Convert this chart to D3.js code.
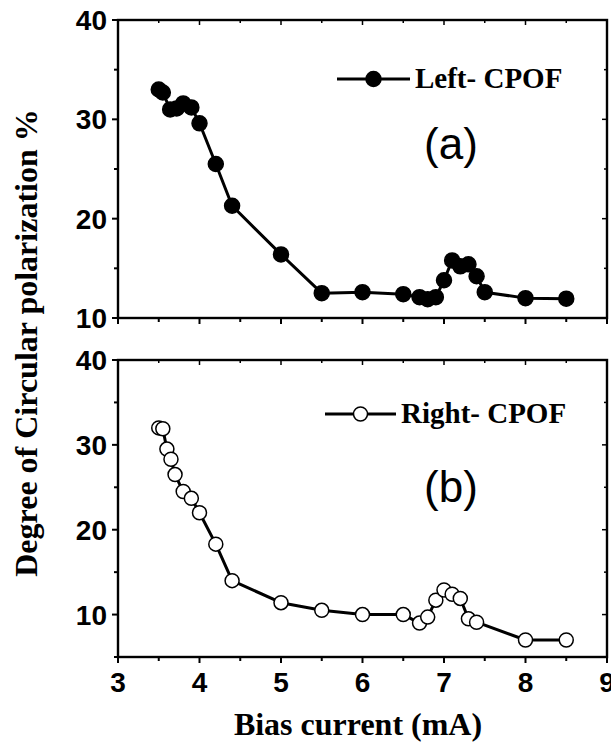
<!DOCTYPE html>
<html>
<head>
<meta charset="utf-8">
<script src="https://cdn.jsdelivr.net/npm/d3@7"></script>
<style>
  body { margin: 0; background: #fff; }
  svg { display: block; }
</style>
</head>
<body>
<div id="chart"></div>
<script>
// Bias current (mA) and degree of circular polarization (%)
const currentLeft = [3.5, 3.55, 3.64, 3.72, 3.8, 3.9, 4.0, 4.2, 4.4, 5.0, 5.5, 6.0, 6.5, 6.7, 6.8, 6.9, 7.0, 7.1, 7.2, 7.3, 7.4, 7.5, 8.0, 8.5];
const leftCPOF = [33.0, 32.7, 31.0, 31.1, 31.6, 31.2, 29.6, 25.5, 21.3, 16.4, 12.5, 12.6, 12.4, 12.1, 11.9, 12.1, 13.8, 15.8, 15.2, 15.4, 14.2, 12.6, 12.0, 11.95];

const currentRight = [3.5, 3.55, 3.6, 3.65, 3.7, 3.8, 3.9, 4.0, 4.2, 4.4, 5.0, 5.5, 6.0, 6.5, 6.7, 6.8, 6.9, 7.0, 7.1, 7.2, 7.3, 7.4, 8.0, 8.5];
const rightCPOF = [32.0, 31.9, 29.5, 28.3, 26.5, 24.5, 23.7, 22.0, 18.3, 14.0, 11.4, 10.5, 10.0, 10.0, 9.0, 9.7, 11.7, 12.9, 12.4, 11.9, 9.5, 9.1, 7.0, 7.0];

const xTicks = [3, 4, 5, 6, 7, 8, 9];
const yTicksTop = [10, 20, 30, 40];
const yTicksBottom = [10, 20, 30, 40];

const width = 611, height = 742;
const left = 118, right = 607;

const svg = d3.select("#chart").append("svg")
  .attr("width", width)
  .attr("height", height);

const x = d3.scaleLinear().domain([3, 9]).range([left, right]);

function minorTicks(domain, step) {
  const out = [];
  for (let v = domain[0]; v <= domain[1] + 1e-9; v += step) out.push(+v.toFixed(3));
  return out;
}

function drawPanel(opts) {
  const y = d3.scaleLinear().domain(opts.yDomain).range([opts.bottom, opts.top]);
  const g = svg.append("g");

  // ticks: outward on left and bottom, inward on top and right
  const xMinor = minorTicks([3, 9], 0.5);
  const yMinor = minorTicks(opts.yDomain, 5);

  g.selectAll(".xb").data(xMinor).enter().append("line")
    .attr("x1", d => x(d)).attr("x2", d => x(d))
    .attr("y1", opts.bottom).attr("y2", d => opts.bottom + (Number.isInteger(d) ? 6 : 4))
    .attr("stroke", "#000").attr("stroke-width", 2);
  g.selectAll(".xt").data(xMinor).enter().append("line")
    .attr("x1", d => x(d)).attr("x2", d => x(d))
    .attr("y1", opts.top).attr("y2", d => opts.top + (Number.isInteger(d) ? 5 : 3))
    .attr("stroke", "#000").attr("stroke-width", 1.5);
  g.selectAll(".yl").data(yMinor).enter().append("line")
    .attr("y1", d => y(d)).attr("y2", d => y(d))
    .attr("x1", left).attr("x2", d => left - (d % 10 === 0 ? 6 : 4))
    .attr("stroke", "#000").attr("stroke-width", 2);
  g.selectAll(".yr").data(yMinor).enter().append("line")
    .attr("y1", d => y(d)).attr("y2", d => y(d))
    .attr("x1", right).attr("x2", d => right - (d % 10 === 0 ? 5 : 3))
    .attr("stroke", "#000").attr("stroke-width", 1.5);

  // frame
  g.append("rect")
    .attr("x", left).attr("y", opts.top)
    .attr("width", right - left).attr("height", opts.bottom - opts.top)
    .attr("fill", "none").attr("stroke", "#000").attr("stroke-width", 2.4);

  // y tick labels
  g.selectAll(".ylab").data(opts.yTicks).enter().append("text")
    .attr("x", left - 11)
    .attr("y", d => y(d))
    .attr("dy", "0.36em")
    .attr("text-anchor", "end")
    .attr("font-family", "Liberation Sans, Arial, sans-serif")
    .attr("font-weight", "bold")
    .attr("font-size", 28)
    .text(d => d);

  if (opts.xLabels) {
    g.selectAll(".xlab").data(xTicks).enter().append("text")
      .attr("x", d => x(d))
      .attr("y", opts.bottom + 35)
      .attr("text-anchor", "middle")
      .attr("font-family", "Liberation Sans, Arial, sans-serif")
      .attr("font-weight", "bold")
      .attr("font-size", 28)
      .text(d => d);
  }

  const pts = opts.xs.map((v, i) => [v, opts.ys[i]]);
  const line = d3.line().x(d => x(d[0])).y(d => y(d[1]));

  g.append("path")
    .datum(pts)
    .attr("d", line)
    .attr("fill", "none")
    .attr("stroke", "#000")
    .attr("stroke-width", 3)
    .attr("stroke-linejoin", "round");

  g.selectAll(".pt").data(pts).enter().append("circle")
    .attr("cx", d => x(d[0]))
    .attr("cy", d => y(d[1]))
    .attr("r", opts.filled ? 7.5 : 7)
    .attr("fill", opts.filled ? "#000" : "#fff")
    .attr("stroke", "#000")
    .attr("stroke-width", 1.5);

  // legend
  g.append("line")
    .attr("x1", opts.legend.x1).attr("x2", opts.legend.x2)
    .attr("y1", opts.legend.y).attr("y2", opts.legend.y)
    .attr("stroke", "#000").attr("stroke-width", 3);
  g.append("circle")
    .attr("cx", (opts.legend.x1 + opts.legend.x2) / 2)
    .attr("cy", opts.legend.y)
    .attr("r", opts.filled ? 7.5 : 7)
    .attr("fill", opts.filled ? "#000" : "#fff")
    .attr("stroke", "#000").attr("stroke-width", 1.5);
  g.append("text")
    .attr("x", opts.legend.x2 + 5)
    .attr("y", opts.legend.y + 9)
    .attr("font-family", "Liberation Serif, Times New Roman, serif")
    .attr("font-weight", "bold")
    .attr("font-size", 29)
    .text(opts.legend.label);

  // panel letter
  g.append("text")
    .attr("x", 451)
    .attr("y", opts.letterY)
    .attr("text-anchor", "middle")
    .attr("font-family", "Liberation Sans, Arial, sans-serif")
    .attr("font-size", 44)
    .text(opts.letter);
}

drawPanel({
  top: 20, bottom: 318, yDomain: [10, 40], yTicks: yTicksTop,
  xs: currentLeft, ys: leftCPOF, filled: true, xLabels: false,
  legend: { x1: 337, x2: 410, y: 79, label: "Left- CPOF" },
  letter: "(a)", letterY: 159
});

drawPanel({
  top: 360, bottom: 657, yDomain: [5, 40], yTicks: yTicksBottom,
  xs: currentRight, ys: rightCPOF, filled: false, xLabels: true,
  legend: { x1: 325, x2: 396, y: 414, label: "Right- CPOF" },
  letter: "(b)", letterY: 502
});

// axis titles
svg.append("text")
  .attr("x", 358)
  .attr("y", 735)
  .attr("text-anchor", "middle")
  .attr("font-family", "Liberation Serif, Times New Roman, serif")
  .attr("font-weight", "bold")
  .attr("font-size", 32)
  .text("Bias current (mA)");

svg.append("text")
  .attr("transform", "translate(37,343) rotate(-90)")
  .attr("text-anchor", "middle")
  .attr("font-family", "Liberation Serif, Times New Roman, serif")
  .attr("font-weight", "bold")
  .attr("font-size", 32)
  .text("Degree of Circular polarization %");
</script>
</body>
</html>
